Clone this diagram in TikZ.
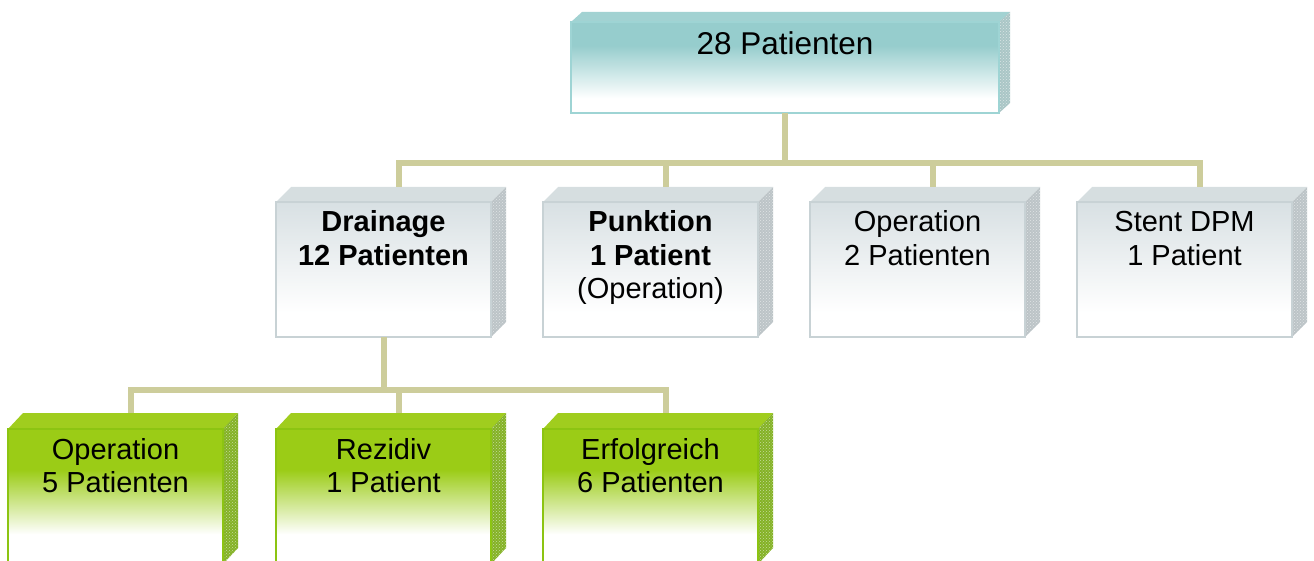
\documentclass[tikz,border=0pt]{standalone}
\usepackage{fontspec}
\setmainfont{Liberation Sans}
\usetikzlibrary{calc,patterns}

\definecolor{conncol}{RGB}{205,205,155}
\definecolor{tealtop}{RGB}{150,205,205}
\definecolor{tealedge}{RGB}{158,212,212}
\definecolor{tealface}{RGB}{162,210,210}
\definecolor{tealside}{RGB}{170,198,198}
\definecolor{graytop}{RGB}{216,224,227}
\definecolor{grayedge}{RGB}{200,210,213}
\definecolor{grayface}{RGB}{214,222,224}
\definecolor{grayside}{RGB}{188,196,199}
\definecolor{greentop}{RGB}{155,204,22}
\definecolor{greenedge}{RGB}{140,196,18}
\definecolor{greenface}{RGB}{160,205,30}
\definecolor{greenside}{RGB}{132,178,38}

% vertical fades (the box itself spans 25bp..75bp of each shading)
\pgfdeclareverticalshading{tealfade}{100bp}{color(0bp)=(white); color(33bp)=(white); color(62bp)=(tealtop); color(100bp)=(tealtop)}
\pgfdeclareverticalshading{grayfade}{100bp}{color(0bp)=(white); color(34bp)=(white); color(75bp)=(graytop); color(100bp)=(graytop)}
\pgfdeclareverticalshading{greenfade}{100bp}{color(0bp)=(white); color(36bp)=(white); color(60bp)=(greentop); color(100bp)=(greentop)}

\pgfdeclarelayer{back}
\pgfsetlayers{back,main}

\tikzset{
  frontbox/.style={rectangle, inner sep=0pt, outer sep=0pt, line width=1.5pt,
    minimum width=215pt, minimum height=135pt, shade,
    font=\fontsize{29pt}{33.5pt}\selectfont},
  tealbox/.style={frontbox, draw=tealedge, shading=tealfade,
    minimum width=428pt, minimum height=91pt,
    font=\fontsize{31.5pt}{35pt}\selectfont},
  graybox/.style={frontbox, draw=grayedge, shading=grayfade},
  greenbox/.style={frontbox, draw=greenedge, shading=greenfade},
  conn/.style={draw=conncol, line width=6pt},
}

% text block set at the top of a front face: height, width, first baseline, text
\newcommand{\boxtext}[4]{\parbox[c][#1][t]{#2}{\centering\rule{0pt}{#3}#4}}

% top and side faces of a box: node, dx, dy, top colour, side colour
\newcommand{\cubefaces}[5]{%
  \begin{pgfonlayer}{back}
    \fill[#4] (#1.north west) -- ++(#2,-#3) -- ($(#1.north east)+(#2,-#3)$)
      -- (#1.north east) -- cycle;
    \fill[#5] (#1.north east) -- ++(#2,-#3) -- ($(#1.south east)+(#2,-#3)$)
      -- (#1.south east) -- cycle;
    \fill[pattern=crosshatch dots, pattern color=white!55!#5]
      (#1.north east) -- ++(#2,-#3) -- ($(#1.south east)+(#2,-#3)$)
      -- (#1.south east) -- cycle;
  \end{pgfonlayer}}

\begin{document}
\begin{tikzpicture}[x=1pt, y=-1pt]
  \useasboundingbox (0,0) rectangle (1314,561);

  % root
  \node[tealbox] (top) at (785,67.5) {\boxtext{91pt}{428pt}{33pt}{28 Patienten}};

  % first level
  \node[graybox] (d) at (383.5,269.5) {\boxtext{135pt}{215pt}{30pt}{\textbf{Drainage}\\\textbf{12 Patienten}}};
  \node[graybox] (p) at (650.5,269.5) {\boxtext{135pt}{215pt}{30pt}{\textbf{Punktion}\\\textbf{1 Patient}\\(Operation)}};
  \node[graybox] (o) at (917.5,269.5) {\boxtext{135pt}{215pt}{30pt}{Operation\\2 Patienten}};
  \node[graybox] (s) at (1184.5,269.5) {\boxtext{135pt}{215pt}{30pt}{Stent DPM\\1 Patient}};

  % second level under Drainage
  \node[greenbox] (g1) at (115.5,496.5) {\boxtext{135pt}{215pt}{30pt}{Operation\\5 Patienten}};
  \node[greenbox] (g2) at (383.5,496.5) {\boxtext{135pt}{215pt}{30pt}{Rezidiv\\1 Patient}};
  \node[greenbox] (g3) at (650.5,496.5) {\boxtext{135pt}{215pt}{30pt}{Erfolgreich\\6 Patienten}};

  \cubefaces{top}{11}{10}{tealface}{tealside}
  \foreach \n in {d,p,o,s} {\cubefaces{\n}{15}{15}{grayface}{grayside}}
  \foreach \n in {g1,g2,g3} {\cubefaces{\n}{15}{16}{greenface}{greenside}}

  % connectors
  \coordinate (bus1) at (785,163);
  \coordinate (bus2) at (383.5,390);
  \draw[conn] (top.south) -- (bus1);
  \foreach \n in {d,p,o,s}
    \draw[conn] ($(\n.north west)+(122.5,-15)$) |- (bus1);
  \draw[conn] (d.south) -- (bus2);
  \foreach \n in {g1,g2,g3}
    \draw[conn] ($(\n.north west)+(122.5,-16)$) |- (bus2);
\end{tikzpicture}
\end{document}
